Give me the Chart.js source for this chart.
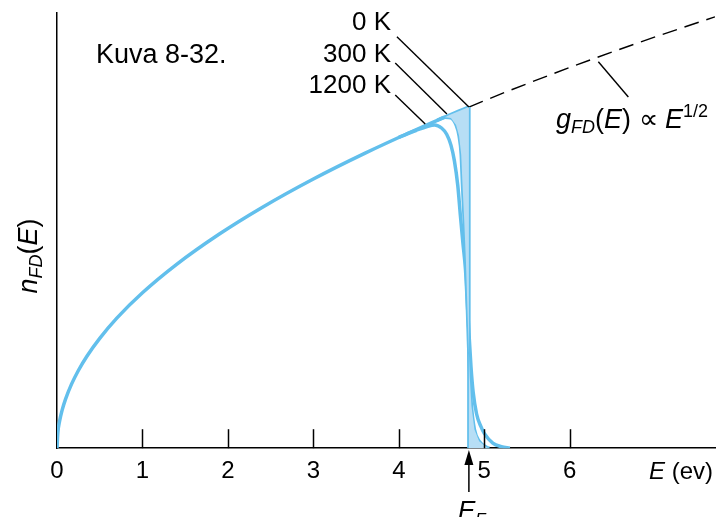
<!DOCTYPE html>
<html>
<head>
<meta charset="utf-8">
<script src="https://cdn.jsdelivr.net/npm/chart.js@4.4.1/dist/chart.umd.min.js"></script>
<style>
  html, body { margin: 0; padding: 0; background: #fff; }
</style>
</head>
<body>
<canvas id="fdChart" width="718" height="517"></canvas>
<script>
// energies in eV, n_FD in units where g_FD(E) = sqrt(E)
const fermiEnergy = 4.82;
const xTicks = [0, 1, 2, 3, 4, 5, 6];

// 0 K: follows g(E) up to E_F, then drops straight down
const eZero = [0, 0.01, 0.03, 0.06, 0.1, 0.17, 0.25, 0.35, 0.5, 0.7, 1, 1.4, 1.9, 2.4, 3, 3.6, 4.2, 4.6, 4.82];
const nZero = [0, 0.1, 0.173, 0.245, 0.316, 0.412, 0.5, 0.592, 0.707, 0.837, 1, 1.183, 1.378, 1.549, 1.732, 1.897, 2.049, 2.145, 2.195];

// g_FD(E) above E_F (dashed)
const eDos = [4.82, 5.3, 5.8, 6.3, 6.8, 7.3, 7.7];
const nDos = [2.195, 2.302, 2.408, 2.51, 2.608, 2.702, 2.775];

// 300 K
const e300 = [4.45, 4.54, 4.61, 4.67, 4.705, 4.73, 4.745, 4.765, 4.785, 4.8, 4.815, 4.83, 4.85, 4.885, 4.94, 5.03, 5.06];
const n300 = [2.11, 2.13, 2.125, 2.08, 2.01, 1.89, 1.7, 1.47, 1.21, 0.95, 0.69, 0.46, 0.27, 0.12, 0.045, 0.005, 0];

// 1200 K
const e1200 = [4.0, 4.2, 4.33, 4.42, 4.5, 4.56, 4.61, 4.65, 4.69, 4.72, 4.75, 4.78, 4.8, 4.82, 4.845, 4.87, 4.91, 4.96, 5.0, 5.1, 5.2, 5.3];
const n1200 = [2.0, 2.044, 2.07, 2.08, 2.06, 2.02, 1.95, 1.85, 1.69, 1.5, 1.32, 1.15, 0.95, 0.75, 0.52, 0.36, 0.22, 0.14, 0.095, 0.033, 0.01, 0];

const toPts = (xs, ys) => xs.map((x, i) => ({x: x, y: ys[i]}));

// shaded region between the 0 K and 300 K curves
const shadeStart = 4.54;
const shadePts = toPts(e300, n300).filter(p => p.x >= shadeStart)
    .concat([{x: fermiEnergy, y: 0}])
    .concat(toPts(eZero, nZero).filter(p => p.x >= shadeStart).reverse());

const FONT = '"Liberation Sans", Arial, Helvetica, sans-serif';
const BLUE = '#62bfec';

function drawParts(ctx, x, y, parts) {
    let cx = x;
    parts.forEach(p => {
        ctx.font = p.font;
        ctx.fillText(p.t, cx, y + (p.dy || 0));
        cx += ctx.measureText(p.t).width;
    });
    return cx;
}
function partsWidth(ctx, parts) {
    let w = 0;
    parts.forEach(p => { ctx.font = p.font; w += ctx.measureText(p.t).width; });
    return w;
}

const reg = s => s + 'px ' + FONT;
const ita = s => 'italic ' + s + 'px ' + FONT;

// leader lines, in data units
const leaders = [
    [3.978, 2.647, 4.82, 2.195],
    [3.958, 2.479, 4.563, 2.15],
    [3.958, 2.273, 4.309, 2.086],
    [6.335, 2.486, 6.686, 2.26]
];

const decorations = {
    id: 'decorations',
    afterDatasetsDraw(chart) {
        const ctx = chart.ctx;
        const xs = chart.scales.x, ys = chart.scales.y;
        const bottom = chart.chartArea.bottom;
        ctx.save();
        ctx.strokeStyle = '#000';
        ctx.fillStyle = '#000';

        // tick marks pointing up into the plot
        ctx.lineWidth = 1.5;
        xTicks.forEach(v => {
            if (v === 0) return;
            const px = Math.round(xs.getPixelForValue(v)) + 0.5;
            ctx.beginPath();
            ctx.moveTo(px, bottom);
            ctx.lineTo(px, bottom - 19);
            ctx.stroke();
        });

        // leader lines
        ctx.lineWidth = 1.4;
        leaders.forEach(l => {
            ctx.beginPath();
            ctx.moveTo(xs.getPixelForValue(l[0]), ys.getPixelForValue(l[1]));
            ctx.lineTo(xs.getPixelForValue(l[2]), ys.getPixelForValue(l[3]));
            ctx.stroke();
        });

        // arrow to E_F
        const fx = xs.getPixelForValue(fermiEnergy);
        ctx.lineWidth = 1.5;
        ctx.beginPath();
        ctx.moveTo(fx, 492);
        ctx.lineTo(fx, 462);
        ctx.stroke();
        ctx.beginPath();
        ctx.moveTo(fx, 450);
        ctx.lineTo(fx - 4.5, 465);
        ctx.lineTo(fx + 4.5, 465);
        ctx.closePath();
        ctx.fill();

        ctx.textBaseline = 'alphabetic';
        ctx.textAlign = 'left';

        // figure caption
        ctx.font = reg(27);
        ctx.fillText('Kuva 8-32.', 96, 63);

        // temperature labels, right aligned
        ctx.textAlign = 'right';
        ctx.font = reg(26);
        ctx.fillText('0 K', 391, 30);
        ctx.fillText('300 K', 391, 62);
        ctx.fillText('1200 K', 391, 93);
        ctx.textAlign = 'left';

        // g_FD(E) label
        drawParts(ctx, 556, 128, [
            {t: 'g', font: ita(27)},
            {t: 'FD', font: ita(18), dy: 5},
            {t: '(', font: reg(27)},
            {t: 'E', font: ita(27)},
            {t: ') \u221D ', font: reg(27)},
            {t: 'E', font: ita(27)},
            {t: '1/2', font: reg(18), dy: -11}
        ]);

        // x axis title
        const xt = [{t: 'E', font: ita(24)}, {t: ' (ev)', font: reg(24)}];
        drawParts(ctx, 713 - partsWidth(ctx, xt), 479, xt);

        // E_F under the arrow
        drawParts(ctx, fx - 11, 519, [
            {t: 'E', font: ita(26)},
            {t: 'F', font: ita(17), dy: 6}
        ]);

        // y axis title, rotated
        const yt = [
            {t: 'n', font: ita(27)},
            {t: 'FD', font: ita(18), dy: 5},
            {t: '(', font: reg(27)},
            {t: 'E', font: ita(27)},
            {t: ')', font: reg(27)}
        ];
        ctx.translate(37, 256);
        ctx.rotate(-Math.PI / 2);
        drawParts(ctx, -partsWidth(ctx, yt) / 2, 0, yt);
        ctx.restore();
    }
};

const ctx = document.getElementById('fdChart').getContext('2d');
const fdChart = new Chart(ctx, {
    type: 'scatter',
    data: {
        datasets: [
            {
                label: 'shade',
                data: shadePts,
                showLine: true,
                borderWidth: 0,
                backgroundColor: '#b7def5',
                fill: 'shape',
                tension: 0
            },
            {
                label: '1200 K',
                data: toPts(e1200, n1200),
                showLine: true,
                borderColor: BLUE,
                borderWidth: 3.5,
                cubicInterpolationMode: 'monotone'
            },
            {
                label: '300 K',
                data: toPts(e300, n300),
                showLine: true,
                borderColor: BLUE,
                borderWidth: 3.5,
                cubicInterpolationMode: 'monotone'
            },
            {
                label: '0 K',
                data: toPts(eZero, nZero),
                showLine: true,
                borderColor: BLUE,
                borderWidth: 3.5,
                cubicInterpolationMode: 'monotone'
            },
            {
                label: '0 K edge',
                data: [{x: fermiEnergy, y: nZero[nZero.length - 1]}, {x: fermiEnergy, y: 0}],
                showLine: true,
                borderColor: BLUE,
                borderWidth: 3.5,
                tension: 0
            },
            {
                label: 'g(E)',
                data: toPts(eDos, nDos),
                showLine: true,
                borderColor: '#000',
                borderWidth: 1.4,
                borderDash: [15, 8],
                cubicInterpolationMode: 'monotone'
            }
        ]
    },
    options: {
        responsive: false,
        animation: false,
        devicePixelRatio: 1,
        layout: { padding: { left: 57, right: 3, top: 13, bottom: 22 } },
        elements: { point: { radius: 0, hoverRadius: 0 } },
        plugins: {
            legend: { display: false },
            tooltip: { enabled: false }
        },
        scales: {
            x: {
                type: 'linear',
                min: 0,
                max: 7.7,
                afterBuildTicks: (scale) => { scale.ticks = xTicks.map(v => ({value: v})); },
                grid: { display: false, drawTicks: false },
                border: { display: true, color: '#000', width: 1.5 },
                ticks: {
                    color: '#000',
                    padding: 9,
                    maxRotation: 0,
                    font: { family: FONT, size: 24 }
                }
            },
            y: {
                type: 'linear',
                min: 0,
                max: 2.8,
                grid: { display: false, drawTicks: false },
                border: { display: true, color: '#000', width: 1.5 },
                ticks: { display: false }
            }
        }
    },
    plugins: [decorations]
});
</script>
</body>
</html>
